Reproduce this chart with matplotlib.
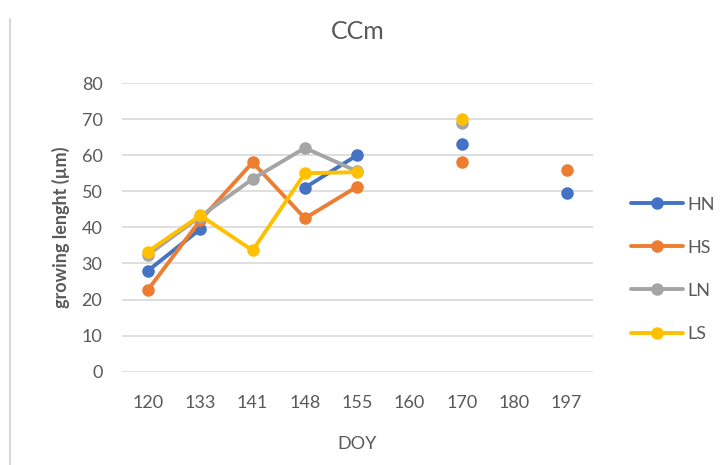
import numpy as np
import matplotlib.pyplot as plt
from matplotlib.lines import Line2D

plt.rcParams['font.family'] = ['Lato', 'DejaVu Sans']

# category axis (DOY)
doy = ['120', '133', '141', '148', '155', '160', '170', '180', '197']
nan = np.nan
hn = [28, 39.5, nan, 51, 60, nan, 63, nan, 49.5]
hs = [22.7, 42, 58, 42.5, 51.3, nan, 58, nan, 56]
ln = [32.4, 43, 53.4, 62, 55.5, nan, 69, nan, nan]
ls = [33.3, 43.3, 33.6, 55, 55.3, nan, 70, nan, nan]

series = [('HN', hn, '#4472C4'), ('HS', hs, '#ED7D31'),
          ('LN', ln, '#A5A5A5'), ('LS', ls, '#FFC000')]

text_col = '#595959'

fig = plt.figure(figsize=(7.21, 4.65), dpi=100)
ax = fig.add_axes([0.169, 0.2007, 0.653, 0.6208])

x = np.arange(len(doy))
for name, vals, col in series:
    ax.plot(x, vals, color=col, lw=2.8, marker='o', ms=8, label=name,
            solid_capstyle='round', zorder=3)

ax.set_xlim(-0.5, len(doy) - 0.5)
ax.set_ylim(0, 80)
ax.set_yticks(range(0, 81, 10))
ax.set_xticks(x)
ax.set_xticklabels(doy)
ax.grid(axis='y', color='#D9D9D9', lw=1.2)
ax.set_axisbelow(True)
for s in ax.spines.values():
    s.set_visible(False)
ax.tick_params(length=0, labelsize=13, colors=text_col)
ax.tick_params(axis='x', pad=17)
ax.tick_params(axis='y', pad=14)

ax.set_title('CCm', fontsize=18, color=text_col, pad=32)
ax.set_xlabel('DOY', fontsize=13, color=text_col, labelpad=18)
ax.set_ylabel('growing lenght (µm)', fontsize=13, color=text_col,
              fontweight='bold', labelpad=8)

ax.legend(loc='center left', bbox_to_anchor=(1.047, 0.355), frameon=False,
          fontsize=13, labelcolor=text_col, handlelength=2.9,
          labelspacing=1.5, handletextpad=0.2, borderaxespad=0.5)

# left border of the pasted chart
fig.add_artist(Line2D([0.0139, 0.0139], [0, 0.96], color='#D0D0D0', lw=1.2,
                      transform=fig.transFigure))

fig.savefig('out.png', dpi=100, facecolor='white')
